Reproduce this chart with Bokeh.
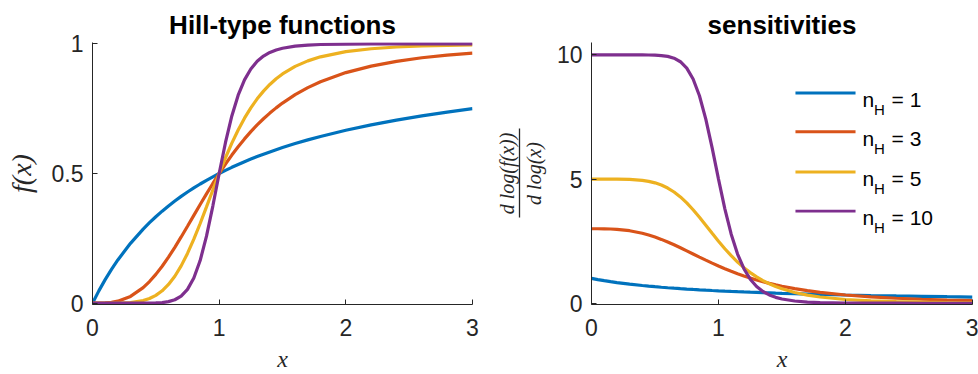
from bokeh.plotting import figure
from bokeh.layouts import row
from bokeh.models import Label, BoxAnnotation, FixedTicker, Range1d, LinearAxis
from bokeh.embed import file_html
from bokeh.resources import INLINE

# ---- data ----
X = [0, 0.05, 0.1, 0.15, 0.2, 0.3, 0.4, 0.45, 0.5, 0.55, 0.6, 0.65, 0.7, 0.75, 0.8, 0.85,
     0.9, 0.95, 1.0, 1.05, 1.1, 1.15, 1.2, 1.25, 1.3, 1.35, 1.4, 1.45, 1.5, 1.6, 1.7, 1.8,
     2.0, 2.2, 2.4, 2.6, 2.8, 3.0]

F1 = [0, 0.0476, 0.0909, 0.1304, 0.1667, 0.2308, 0.2857, 0.3103, 0.3333, 0.3548, 0.375,
      0.3939, 0.4118, 0.4286, 0.4444, 0.4595, 0.4737, 0.4872, 0.5, 0.5122, 0.5238, 0.5349,
      0.5455, 0.5556, 0.5652, 0.5745, 0.5833, 0.5918, 0.6, 0.6154, 0.6296, 0.6429, 0.6667,
      0.6875, 0.7059, 0.7222, 0.7368, 0.75]
F3 = [0, 0.0001, 0.001, 0.0034, 0.0079, 0.0263, 0.0602, 0.0835, 0.1111, 0.1426, 0.1776,
      0.2155, 0.2554, 0.2967, 0.3386, 0.3805, 0.4216, 0.4616, 0.5, 0.5365, 0.571, 0.6033,
      0.6334, 0.6614, 0.6872, 0.711, 0.7329, 0.753, 0.7714, 0.8038, 0.8309, 0.8536, 0.8889,
      0.9141, 0.9325, 0.9462, 0.9564, 0.9643]
F5 = [0, 0, 0, 0.0001, 0.0003, 0.0024, 0.0101, 0.0181, 0.0303, 0.0479, 0.0722, 0.104,
      0.1439, 0.1918, 0.2468, 0.3073, 0.3713, 0.4362, 0.5, 0.5607, 0.6169, 0.6679, 0.7133,
      0.7532, 0.7878, 0.8176, 0.8432, 0.865, 0.8836, 0.9129, 0.9342, 0.9497, 0.9697, 0.981,
      0.9876, 0.9917, 0.9942, 0.9959]
F10 = [0, 0, 0, 0, 0, 0, 0.0001, 0.0003, 0.001, 0.0025, 0.006, 0.0133, 0.0275, 0.0533,
       0.097, 0.1645, 0.2585, 0.3745, 0.5, 0.6196, 0.7217, 0.8018, 0.861, 0.903, 0.9324,
       0.9526, 0.9666, 0.9762, 0.983, 0.991, 0.9951, 0.9972, 0.999, 0.9996, 0.9998, 0.9999,
       1.0, 1.0]

S1 = [1, 0.9524, 0.9091, 0.8696, 0.8333, 0.7692, 0.7143, 0.6897, 0.6667, 0.6452, 0.625,
      0.6061, 0.5882, 0.5714, 0.5556, 0.5405, 0.5263, 0.5128, 0.5, 0.4878, 0.4762, 0.4651,
      0.4545, 0.4444, 0.4348, 0.4255, 0.4167, 0.4082, 0.4, 0.3846, 0.3704, 0.3571, 0.3333,
      0.3125, 0.2941, 0.2778, 0.2632, 0.25]
S3 = [3, 2.9996, 2.997, 2.9899, 2.9762, 2.9211, 2.8195, 2.7494, 2.6667, 2.5721, 2.4671,
      2.3536, 2.2338, 2.1099, 1.9841, 1.8586, 1.7351, 1.6152, 1.5, 1.3904, 1.287, 1.1901,
      1.0997, 1.0159, 0.9384, 0.867, 0.8013, 0.741, 0.6857, 0.5887, 0.5074, 0.4391, 0.3333,
      0.2576, 0.2024, 0.1615, 0.1307, 0.1071]
S5 = [5, 5, 5, 4.9996, 4.9984, 4.9879, 4.9493, 4.9094, 4.8485, 4.7604, 4.6393, 4.4801,
      4.2806, 4.0411, 3.766, 3.4633, 3.1437, 2.8189, 2.5, 2.1966, 1.9154, 1.6604, 1.4334,
      1.2341, 1.0609, 0.9117, 0.7839, 0.6748, 0.5818, 0.4353, 0.329, 0.2513, 0.1515, 0.0952,
      0.062, 0.0417, 0.0289, 0.0205]
S10 = [10, 10, 10, 10, 10, 9.9999, 9.999, 9.9966, 9.9902, 9.9747, 9.9399, 9.8672, 9.7253,
       9.4669, 9.0304, 8.3551, 7.4147, 6.2549, 5, 3.8039, 2.7826, 1.9819, 1.3905, 0.9696,
       0.6763, 0.4738, 0.3342, 0.2376, 0.1705, 0.0901, 0.0494, 0.0279, 0.0098, 0.0038,
       0.0016, 0.0007, 0.0003, 0.0002]

HILL_N = ["1", "3", "5", "10"]
F_SERIES = [F1, F3, F5, F10]
S_SERIES = [S1, S3, S5, S10]
COLORS = ["#0072BD", "#D95319", "#EDB120", "#7E2F8E"]

X_TICKS = [0, 1, 2, 3]
X_TICK_LABELS = ["0", "1", "2", "3"]
YL_TICKS = [0, 0.5, 1]
YL_TICK_LABELS = ["0", "0.5", "1"]
YR_TICKS = [0, 5, 10]
YR_TICK_LABELS = ["0", "5", "10"]

TITLE_L = "Hill-type functions"
TITLE_R = "sensitivities"

AX = "#262626"
SANS = "Liberation Sans"
SERIF = "Liberation Serif"


def make_fig(width, left, right, top, bottom, y0, y1, yticks, ylabels, title):
    p = figure(width=width, height=374, x_range=Range1d(0, 3), y_range=Range1d(y0, y1),
               output_backend="svg", toolbar_location=None, title=title,
               min_border_left=left, min_border_right=right,
               min_border_top=top, min_border_bottom=bottom)
    p.title.align = "center"
    p.title.text_font = SANS
    p.title.text_font_size = "26px"
    p.title.text_font_style = "bold"
    p.title.text_color = "black"
    p.title.standoff = 6
    p.outline_line_color = None
    p.xgrid.visible = False
    p.ygrid.visible = False
    for ax in (p.xaxis[0], p.yaxis[0]):
        ax.axis_line_color = AX
        ax.axis_line_width = 1
        ax.major_tick_line_color = AX
        ax.major_tick_in = 5
        ax.major_tick_out = 0
        ax.minor_tick_line_color = None
        ax.major_label_text_font = SANS
        ax.major_label_text_font_size = "23px"
        ax.major_label_text_color = AX
        ax.axis_label_text_font = SERIF
        ax.axis_label_text_font_style = "italic"
        ax.axis_label_text_color = AX
    p.xaxis.ticker = FixedTicker(ticks=X_TICKS)
    p.xaxis.major_label_overrides = {t: l for t, l in zip(X_TICKS, X_TICK_LABELS)}
    p.xaxis.major_label_standoff = 14
    p.xaxis.axis_label = "x"
    p.xaxis.axis_label_text_font_size = "24px"
    p.xaxis.axis_label_standoff = 7
    p.yaxis.ticker = FixedTicker(ticks=yticks)
    p.yaxis.major_label_overrides = {t: l for t, l in zip(yticks, ylabels)}
    p.yaxis.major_label_standoff = 9
    return p


# ---- left panel ----
p1 = make_fig(490, 92, 18, 41, 70, -0.005, 1.005, YL_TICKS, YL_TICK_LABELS, TITLE_L)
for ys, c in zip(F_SERIES, COLORS):
    p1.line(X, ys, line_color=c, line_width=3.2)
p1.yaxis.axis_label = "f(x)"
p1.yaxis.axis_label_text_font_size = "28px"
p1.yaxis.axis_label_standoff = 12

# ---- right panel ----
p2 = make_fig(488, 101, 6, 42, 70, -0.05, 10.5, YR_TICKS, YR_TICK_LABELS, TITLE_R)
for ys, c in zip(S_SERIES, COLORS):
    p2.line(X, ys, line_color=c, line_width=3.2)
# fraction y label: denominator on the main axis, bar and numerator on extra axes
p2.yaxis.axis_label = "d log(x)"
p2.yaxis.axis_label_text_font_size = "20px"
p2.yaxis.axis_label_standoff = 9

FRAC_BAR = (3.44, 7.03)
bar_axis = LinearAxis(bounds=FRAC_BAR, ticker=FixedTicker(ticks=[]),
                      axis_line_color=AX, axis_line_width=1.3,
                      major_tick_in=0, major_tick_out=0, minor_tick_line_color=None,
                      major_label_standoff=0, axis_label_standoff=0)
p2.add_layout(bar_axis, "left")
num_axis = LinearAxis(ticker=FixedTicker(ticks=[]), axis_line_color=None,
                      major_tick_in=0, major_tick_out=0, minor_tick_line_color=None,
                      major_label_standoff=0, axis_label="d log(f(x))",
                      axis_label_standoff=2, axis_label_text_font=SERIF,
                      axis_label_text_font_style="italic", axis_label_text_font_size="20px",
                      axis_label_text_color=AX)
p2.add_layout(num_axis, "left")

# legend (n_H with subscript)
LEG_X0, LEG_X1 = 1.606, 2.079
LEG_Y = [8.47, 6.91, 5.29, 3.71]
for lab, c, ly in zip(HILL_N, COLORS, LEG_Y):
    p2.add_layout(BoxAnnotation(left=LEG_X0, right=LEG_X1, bottom=ly - 0.06, top=ly + 0.06,
                                fill_color=c, fill_alpha=1, line_alpha=0))
    p2.add_layout(Label(x=LEG_X1, y=ly, x_offset=7, y_offset=-6.5, text="n",
                        text_baseline="alphabetic", text_font=SANS, text_font_size="21px",
                        text_color="black"))
    p2.add_layout(Label(x=LEG_X1, y=ly, x_offset=18.5, y_offset=-16.5, text="H",
                        text_baseline="alphabetic", text_font=SANS, text_font_size="15px",
                        text_color="black"))
    p2.add_layout(Label(x=LEG_X1, y=ly, x_offset=36, y_offset=-6.5, text="= " + lab,
                        text_baseline="alphabetic", text_font=SANS, text_font_size="21px",
                        text_color="black"))

layout = row(p1, p2)
open("out.html", "w").write(file_html(layout, INLINE))
